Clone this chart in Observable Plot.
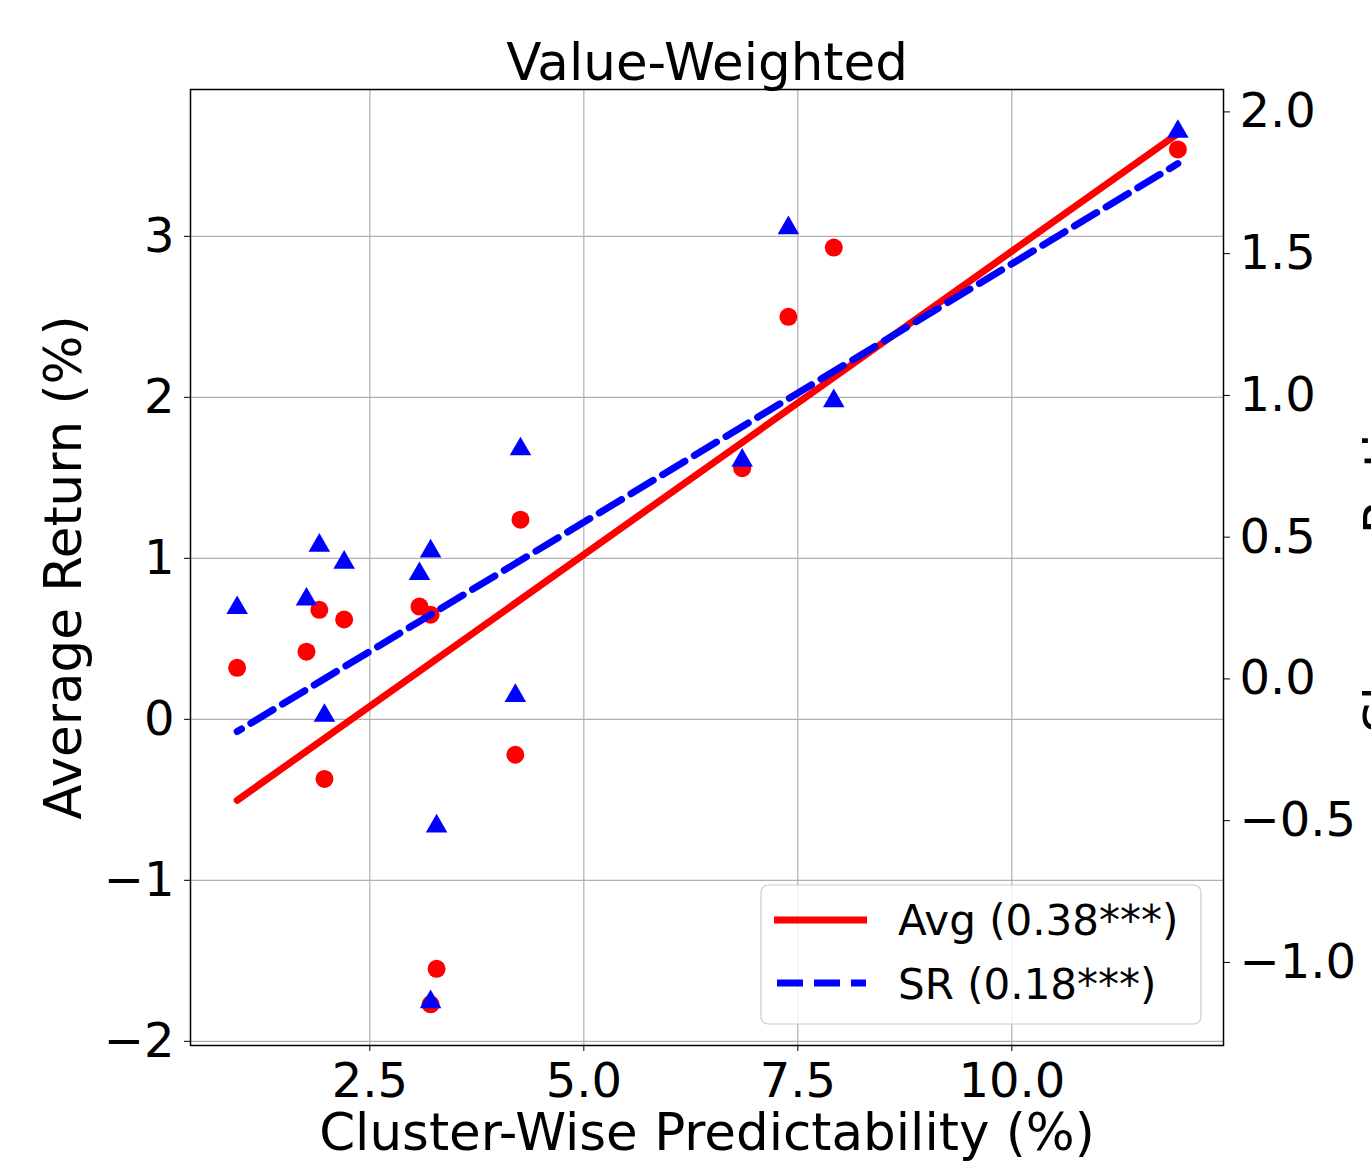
<!DOCTYPE html>
<html>
<head>
<meta charset="utf-8">
<script src="https://cdn.jsdelivr.net/npm/d3@7"></script>
<script src="https://cdn.jsdelivr.net/npm/@observablehq/plot@0.6"></script>
<style>
  html, body { margin: 0; padding: 0; background: #fff; }
  #wrap { position: relative; width: 1371px; height: 1162px; overflow: hidden; font-family: "DejaVu Sans", sans-serif; }
  #legend { position: absolute; left: 0; top: 0; pointer-events: none; }
</style>
</head>
<body>
<div id="wrap"></div>
<script>
// ---- data ----
const predictability = [0.95, 1.76, 1.91, 2.20, 1.97, 3.08, 3.21, 3.28, 3.21, 4.20, 4.26, 6.85, 7.39, 7.92, 11.94];
const avgReturn      = [0.32, 0.42, 0.68, 0.62, -0.37, 0.70, 0.65, -1.55, -1.77, -0.22, 1.24, 1.56, 2.50, 2.93, 3.54];
const sharpeRatio    = [0.24, 0.27, 0.46, 0.40, -0.14, 0.36, 0.44, -0.53, -1.15, -0.07, 0.80, 0.76, 1.58, 0.97, 1.92];

const xTicks = [2.5, 5.0, 7.5, 10.0];
const leftTicks = [-2, -1, 0, 1, 2, 3];
const rightTicks = [-1.0, -0.5, 0.0, 0.5, 1.0, 1.5, 2.0];
const seriesLabels = ["Avg (0.38***)", "SR (0.18***)"];
const titleText = "Value-Weighted";
const xLabel = "Cluster-Wise Predictability (%)";
const yLeftLabel = "Average Return (%)";
const yRightLabel = "Sharpe Ratio";

// axis limits
const xDomain = [0.405, 12.473];
const leftDomain = [-2.026, 3.912];
const rightDomain = [-1.293, 2.079];

const toLeft = v => leftDomain[0] + (v - rightDomain[0]) * (leftDomain[1] - leftDomain[0]) / (rightDomain[1] - rightDomain[0]);
const toRight = v => rightDomain[0] + (v - leftDomain[0]) * (rightDomain[1] - rightDomain[0]) / (leftDomain[1] - leftDomain[0]);
const minus = s => s.replace("-", "\u2212");

const data = predictability.map((x, i) => ({x, avg: avgReturn[i], sr: sharpeRatio[i]}));

const labelFont = 51.5;

const chart = Plot.plot({
  width: 1371,
  height: 1162,
  marginLeft: 190,
  marginRight: 148,
  marginTop: 89,
  marginBottom: 117,
  style: {fontFamily: "DejaVu Sans", fontSize: "48px", background: "white", color: "black", overflow: "visible"},
  x: {domain: xDomain},
  y: {domain: leftDomain},
  marks: [
    Plot.gridX(xTicks, {stroke: "#b0b0b0", strokeOpacity: 1, strokeWidth: 1.2}),
    Plot.gridY(leftTicks, {stroke: "#b0b0b0", strokeOpacity: 1, strokeWidth: 1.2}),
    Plot.dot(data, {x: "x", y: "avg", r: 9, fill: "#ff0000", symbol: "circle"}),
    Plot.linearRegressionY(data, {x: "x", y: "avg", stroke: "#ff0000", strokeWidth: 7, ci: 0}),
    Plot.dot(data, {x: "x", y: d => toLeft(d.sr), symbol: "triangle", r: 8, fill: "#0000ff", dy: -3}),
    Plot.linearRegressionY(data, {x: "x", y: d => toLeft(d.sr), stroke: "#0000ff", strokeWidth: 7, strokeDasharray: "26,11", strokeDashoffset: 21, ci: 0}),
    Plot.frame({stroke: "black", strokeWidth: 1.5}),
    Plot.axisX(xTicks, {anchor: "bottom", tickSize: 6, tickPadding: 11, tickFormat: d => d.toFixed(1), label: null, fontSize: 48}),
    Plot.axisY(leftTicks, {anchor: "left", tickSize: 6, tickPadding: 10, tickFormat: d => minus(String(d)), label: null, fontSize: 48}),
    Plot.axisY(rightTicks.map(toLeft), {anchor: "right", tickSize: 6, tickPadding: 10, tickFormat: d => minus(toRight(d).toFixed(1)), label: null, fontSize: 48}),
    Plot.text([titleText], {frameAnchor: "top", lineAnchor: "middle", textAnchor: "middle", dy: -26, fontSize: labelFont}),
    Plot.text([xLabel], {frameAnchor: "bottom", lineAnchor: "top", textAnchor: "middle", dy: 68, fontSize: labelFont}),
    Plot.text([yLeftLabel], {frameAnchor: "left", rotate: -90, lineAnchor: "top", textAnchor: "middle", dx: -146, fontSize: labelFont}),
    Plot.text([yRightLabel], {frameAnchor: "right", rotate: -90, lineAnchor: "top", textAnchor: "middle", dx: 141, fontSize: labelFont})
  ]
});

const wrap = document.getElementById("wrap");
wrap.appendChild(chart);

// legend overlay
const ns = "http://www.w3.org/2000/svg";
const lg = document.createElementNS(ns, "svg");
lg.setAttribute("id", "legend");
lg.setAttribute("width", 1371);
lg.setAttribute("height", 1162);
lg.innerHTML = `
  <rect x="761" y="885" width="440" height="139" rx="7" ry="7" fill="white" fill-opacity="0.8" stroke="#cccccc" stroke-width="1.2"></rect>
  <line x1="774" x2="867" y1="920" y2="920" stroke="#ff0000" stroke-width="7"></line>
  <line x1="777" x2="866" y1="983" y2="983" stroke="#0000ff" stroke-width="7" stroke-dasharray="26,11"></line>
  <text x="898" y="935" font-family="DejaVu Sans" font-size="42" fill="black">${seriesLabels[0]}</text>
  <text x="898" y="999" font-family="DejaVu Sans" font-size="42" fill="black">${seriesLabels[1]}</text>
`;
wrap.appendChild(lg);
</script>
</body>
</html>
